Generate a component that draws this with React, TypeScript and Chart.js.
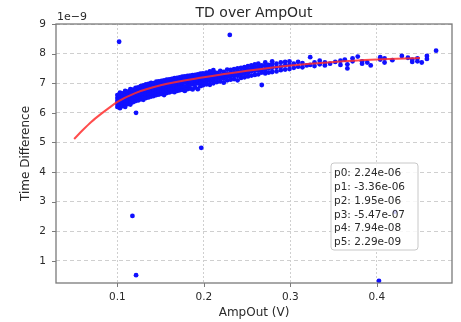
import { useEffect, useRef } from "react";
import { Chart, registerables } from "chart.js";

Chart.register(...registerables);

// Dense measurement cluster, grouped in columns of AmpOut (V); y in units of 1e-9 s
const colX = [
  0.100, 0.103, 0.106, 0.109, 0.112, 0.115, 0.118, 0.121, 0.124, 0.127,
  0.130, 0.133, 0.136, 0.139, 0.142, 0.145, 0.148, 0.151, 0.154, 0.157,
  0.160, 0.163, 0.166, 0.169, 0.172, 0.175, 0.178, 0.181, 0.184, 0.187,
  0.190, 0.193, 0.196, 0.199, 0.203, 0.207, 0.211, 0.215, 0.219, 0.223,
  0.227, 0.231, 0.235, 0.239, 0.243, 0.247, 0.251, 0.255, 0.259, 0.263,
  0.267, 0.271, 0.275, 0.279, 0.284, 0.289, 0.294, 0.299, 0.304, 0.309,
  0.314, 0.319, 0.323, 0.328, 0.334, 0.340, 0.346, 0.352, 0.358, 0.363,
  0.366, 0.372, 0.378, 0.383, 0.389, 0.393, 0.404, 0.409, 0.418, 0.429,
  0.436, 0.441, 0.447, 0.452, 0.458,
];
const colY = [
  [6.20, 6.30, 6.40, 6.50, 6.60],
  [6.16, 6.27, 6.38, 6.48, 6.58, 6.68],
  [6.24, 6.34, 6.45, 6.55, 6.66],
  [6.20, 6.31, 6.42, 6.53, 6.63, 6.74],
  [6.30, 6.41, 6.50, 6.62, 6.72],
  [6.28, 6.38, 6.48, 6.58, 6.68, 6.80],
  [6.36, 6.46, 6.57, 6.68, 6.78],
  [6.40, 6.50, 6.60, 6.71, 6.84],
  [6.42, 6.53, 6.64, 6.74, 6.86],
  [6.46, 6.56, 6.66, 6.78, 6.90],
  [6.44, 6.55, 6.68, 6.80, 6.93],
  [6.50, 6.62, 6.72, 6.84, 6.96],
  [6.52, 6.64, 6.76, 6.86, 6.98],
  [6.55, 6.66, 6.78, 6.89, 7.01],
  [6.57, 6.69, 6.80, 6.92, 7.00],
  [6.60, 6.71, 6.82, 6.94, 7.05],
  [6.62, 6.73, 6.85, 6.96, 7.06],
  [6.64, 6.76, 6.87, 6.98, 7.08],
  [6.60, 6.74, 6.86, 6.99, 7.10],
  [6.67, 6.78, 6.90, 7.01, 7.12],
  [6.69, 6.81, 6.92, 7.03, 7.13],
  [6.72, 6.83, 6.94, 7.05, 7.15],
  [6.70, 6.82, 6.95, 7.06, 7.17],
  [6.74, 6.86, 6.98, 7.08, 7.18],
  [6.76, 6.88, 7.00, 7.10, 7.20],
  [6.78, 6.90, 7.01, 7.12, 7.22],
  [6.74, 6.88, 7.02, 7.13, 7.23],
  [6.80, 6.93, 7.04, 7.15, 7.25],
  [6.82, 6.95, 7.06, 7.16, 7.26],
  [6.79, 6.96, 7.07, 7.18, 7.27],
  [6.86, 6.98, 7.09, 7.19, 7.28],
  [6.80, 7.00, 7.10, 7.20, 7.30],
  [6.90, 7.02, 7.12, 7.22, 7.32],
  [6.93, 7.04, 7.14, 7.23, 7.33],
  [6.96, 7.06, 7.16, 7.26, 7.36],
  [6.95, 7.08, 7.19, 7.30, 7.40],
  [7.00, 7.12, 7.22, 7.32, 7.44],
  [7.04, 7.15, 7.26, 7.35],
  [7.06, 7.18, 7.28, 7.42],
  [7.02, 7.16, 7.27, 7.38],
  [7.10, 7.22, 7.32, 7.46],
  [7.12, 7.24, 7.34, 7.45],
  [7.14, 7.26, 7.36, 7.48],
  [7.10, 7.25, 7.38, 7.50],
  [7.18, 7.30, 7.40, 7.52],
  [7.20, 7.32, 7.44, 7.54],
  [7.23, 7.35, 7.46, 7.58],
  [7.26, 7.40, 7.50, 7.60],
  [7.28, 7.42, 7.52, 7.64],
  [7.30, 7.44, 7.56, 7.66],
  [6.94, 7.36, 7.48, 7.60],
  [7.33, 7.45, 7.58, 7.70],
  [7.36, 7.50, 7.62],
  [7.38, 7.52, 7.64, 7.74],
  [7.40, 7.54, 7.66],
  [7.44, 7.56, 7.70],
  [7.46, 7.60, 7.72],
  [7.48, 7.62, 7.74],
  [7.52, 7.66],
  [7.56, 7.72],
  [7.54, 7.68],
  [7.60],
  [7.88, 7.62],
  [7.58, 7.70],
  [7.64, 7.76],
  [7.60, 7.70],
  [7.66],
  [7.72],
  [7.62, 7.76],
  [7.80],
  [7.50, 7.64],
  [7.74, 7.84],
  [7.90],
  [7.66, 7.74],
  [7.70],
  [7.60],
  [7.88, 7.80],
  [7.70, 7.84],
  [7.78],
  [7.92],
  [7.86],
  [7.72, 7.80],
  [7.74, 7.84],
  [7.70],
  [7.92, 7.82],
];

// Isolated outlier measurements
const outlierX = [0.102, 0.230, 0.1216, 0.197, 0.1174, 0.1216, 0.4025, 0.4686, 0.421];
const outlierY = [8.40, 8.63, 6.00, 4.82, 2.52, 0.52, 0.33, 8.10, 2.66];

// Fitted curve
const fitX = [0.05, 0.06, 0.07, 0.08, 0.09, 0.10, 0.12, 0.15, 0.20, 0.25, 0.30, 0.35, 0.40, 0.45];
const fitY = [5.12, 5.42, 5.70, 5.94, 6.16, 6.37, 6.66, 6.93, 7.20, 7.42, 7.60, 7.72, 7.80, 7.85];

const xTicks = [0.1, 0.2, 0.3, 0.4];
const yTicks = [1, 2, 3, 4, 5, 6, 7, 8, 9];
const paramLabels = [
  "p0: 2.24e-06",
  "p1: -3.36e-06",
  "p2: 1.95e-06",
  "p3: -5.47e-07",
  "p4: 7.94e-08",
  "p5: 2.29e-09",
];

const FONT = "'DejaVu Sans', sans-serif";
const TEXT = "#2a2a2a";

export default function App() {
  const ref = useRef<HTMLCanvasElement>(null);

  useEffect(() => {
    const points: { x: number; y: number }[] = [];
    colX.forEach((x, i) => colY[i].forEach((y) => points.push({ x, y })));
    outlierX.forEach((x, i) => points.push({ x, y: outlierY[i] }));
    const fit = fitX.map((x, i) => ({ x, y: fitY[i] }));

    const frame = {
      id: "frame",
      afterDatasetsDraw(chart: any) {
        const { ctx, chartArea: a, scales } = chart;
        ctx.save();
        // parameter box
        const bx = 331, by = 163, bw = 87, bh = 87;
        ctx.beginPath();
        ctx.roundRect(bx, by, bw, bh, 3);
        ctx.fillStyle = "rgba(255,255,255,0.82)";
        ctx.fill();
        ctx.strokeStyle = "#c8c8c8";
        ctx.lineWidth = 1;
        ctx.stroke();
        ctx.fillStyle = TEXT;
        ctx.font = `10.5px ${FONT}`;
        ctx.textAlign = "left";
        ctx.textBaseline = "middle";
        paramLabels.forEach((t, i) => ctx.fillText(t, bx + 3, by + 10.5 + i * 13.8));

        // spines
        ctx.strokeStyle = "#7a7a7a";
        ctx.lineWidth = 1.3;
        ctx.strokeRect(a.left, a.top, a.right - a.left, a.bottom - a.top);
        // tick marks
        ctx.lineWidth = 1;
        ctx.beginPath();
        xTicks.forEach((v) => {
          const px = Math.round(scales.x.getPixelForValue(v)) + 0.5;
          ctx.moveTo(px, a.bottom);
          ctx.lineTo(px, a.bottom + 4);
        });
        yTicks.forEach((v) => {
          const py = Math.round(scales.y.getPixelForValue(v)) + 0.5;
          ctx.moveTo(a.left, py);
          ctx.lineTo(a.left - 4, py);
        });
        ctx.stroke();

        // texts
        ctx.fillStyle = TEXT;
        ctx.textAlign = "center";
        ctx.textBaseline = "middle";
        ctx.font = `14px ${FONT}`;
        ctx.fillText("TD over AmpOut", (a.left + a.right) / 2, 13);
        ctx.font = `12px ${FONT}`;
        ctx.fillText("AmpOut (V)", (a.left + a.right) / 2, 313);
        ctx.save();
        ctx.translate(26, (a.top + a.bottom) / 2);
        ctx.rotate(-Math.PI / 2);
        ctx.fillText("Time Difference", 0, 0);
        ctx.restore();
        ctx.textAlign = "left";
        ctx.font = `11px ${FONT}`;
        ctx.fillText("1e\u22129", a.left + 1, 17);
        ctx.restore();
      },
    };

    const chart = new Chart(ref.current as HTMLCanvasElement, {
      type: "scatter",
      data: {
        datasets: [
          {
            type: "line",
            data: fit,
            borderColor: "rgba(255,45,45,0.85)",
            borderWidth: 2,
            pointRadius: 0,
            showLine: true,
            fill: false,
            cubicInterpolationMode: "monotone",
            order: 0,
          } as any,
          {
            data: points,
            backgroundColor: "#1010ff",
            borderColor: "#1010ff",
            borderWidth: 0,
            pointRadius: 2.4,
            pointStyle: "circle",
            order: 1,
          },
        ],
      },
      options: {
        animation: false,
        responsive: false,
        devicePixelRatio: 1,
        layout: { padding: { top: 24, right: 9, left: 0, bottom: 0 } },
        plugins: {
          legend: { display: false },
          tooltip: { enabled: false },
          title: { display: false },
        },
        scales: {
          x: {
            type: "linear",
            min: 0.029,
            max: 0.487,
            afterBuildTicks: (s: any) => {
              s.ticks = xTicks.map((value) => ({ value }));
            },
            afterFit: (s: any) => {
              s.height = 39;
            },
            ticks: {
              font: { family: FONT, size: 10.5 },
              color: TEXT,
              padding: 8,
              maxRotation: 0,
              callback: (v: any) => Number(v).toFixed(1),
            },
            grid: { color: "#cfcfcf", lineWidth: 1, drawTicks: false },
            border: { display: false, dash: [2, 2] },
          },
          y: {
            type: "linear",
            min: 0.257,
            max: 9.0,
            afterBuildTicks: (s: any) => {
              s.ticks = yTicks.map((value) => ({ value }));
            },
            afterFit: (s: any) => {
              s.width = 56;
            },
            ticks: {
              font: { family: FONT, size: 10.5 },
              color: TEXT,
              padding: 10,
              callback: (v: any) => String(v),
            },
            grid: { color: "#cfcfcf", lineWidth: 1, drawTicks: false },
            border: { display: false, dash: [4, 3] },
          },
        },
      },
      plugins: [frame],
    });
    return () => chart.destroy();
  }, []);

  return (
    <div style={{ position: "absolute", left: 0, top: 0, width: 461, height: 322, background: "#fff" }}>
      <canvas ref={ref} width={461} height={322} />
    </div>
  );
}
